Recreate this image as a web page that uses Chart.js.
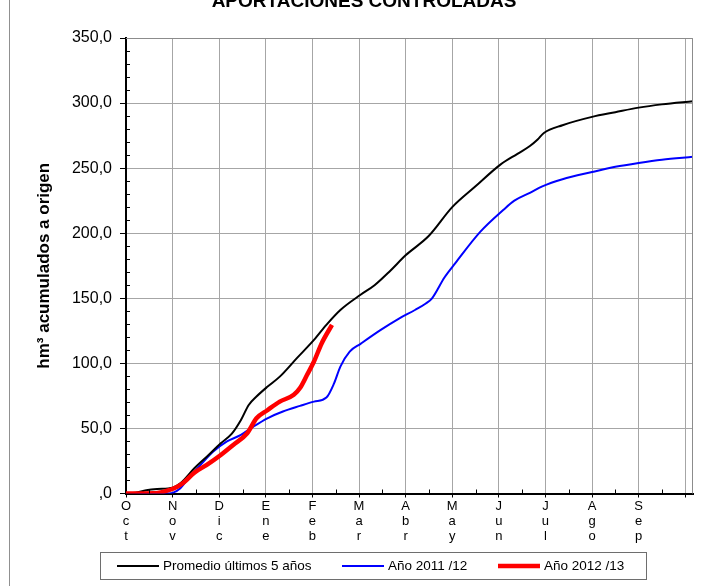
<!DOCTYPE html>
<html lang="es">
<head>
    <meta charset="UTF-8">
    <title>Aportaciones controladas</title>
    <script src="https://cdn.jsdelivr.net/npm/chart.js"></script>
    <style>
        body { margin: 0; background: #fff; }
        #wrap { width: 718px; height: 586px; position: relative; }
    </style>
</head>
<body>
    <div id="wrap"><canvas id="aportChart"></canvas></div>

    <script>
        // Meses del año hidrológico (tick cada 30 días)
        const meses = ['Oct', 'Nov', 'Dic', 'Ene', 'Feb', 'Mar', 'Abr', 'May', 'Jun', 'Jul', 'Ago', 'Sep'];
        const yTicks = [0, 50, 100, 150, 200, 250, 300, 350];

        // Promedio últimos 5 años
        const promedioDias = [0, 6, 13, 20, 30, 35, 44, 52, 61, 68, 74, 79, 84, 91, 99, 110, 121, 129, 138, 151, 160, 170, 180, 195, 210, 225, 241, 252, 260, 265, 269, 281, 300, 315, 330, 345, 365];
        const promedioValores = [0, 0.5, 2.5, 3.5, 4.5, 7.8, 19.4, 28.3, 38.6, 45.8, 56.5, 68, 74.5, 82, 89.8, 104, 118, 129.6, 141, 152.7, 160, 171, 183, 198, 220, 236, 252.7, 261, 267, 272, 277, 283, 289.4, 293, 296.5, 299, 301.4];

        // Año 2011/12
        const anyo1112Dias = [0, 25, 30, 35, 41, 48, 56, 65, 74, 82, 91, 101, 112, 121, 129, 134, 138, 144, 151, 164, 176, 186, 193, 197, 205, 212, 228, 243, 250, 260, 268, 281, 300, 315, 330, 345, 365];
        const anyo1112Valores = [0, 0, 0.5, 4, 13, 22, 32, 40, 45, 51.4, 57.8, 63, 67.3, 70.6, 73.7, 84.8, 97.5, 109, 115, 125.7, 134.6, 141, 146, 150, 166, 177, 201, 218, 225, 231, 236, 241.5, 247, 251, 254, 256.5, 258.7];

        // Año 2012/13
        const anyo1213Dias = [0, 18, 26, 31, 37, 44, 52, 61, 69, 78, 84, 91, 99, 108, 112, 116.5, 121, 126, 132.6];
        const anyo1213Valores = [0, 0.2, 2, 4, 8.3, 16, 22, 29.6, 37.3, 46.3, 57.8, 64, 70.6, 75.8, 81, 91, 101.4, 115.5, 129.6];

        const FONT = "'Liberation Sans', Arial, sans-serif";

        function puntos(dias, valores) {
            return dias.map((d, i) => ({ x: d, y: valores[i] }));
        }

        // marcas menores, bordes, título y leyenda con recuadro
        const decor = {
            id: 'decor',
            afterDraw(chart) {
                const { ctx, chartArea: a, scales: { x, y } } = chart;
                ctx.save();

                // borde superior y derecho del área
                ctx.strokeStyle = '#8c8c8c';
                ctx.lineWidth = 1;
                ctx.beginPath();
                ctx.moveTo(a.left, a.top + 0.5);
                ctx.lineTo(a.right - 0.5, a.top + 0.5);
                ctx.lineTo(a.right - 0.5, a.bottom);
                ctx.stroke();

                // marcas menores
                ctx.strokeStyle = '#000';
                ctx.beginPath();
                for (let v = 10; v < 350; v += 10) {
                    if (v % 50 === 0) continue;
                    const py = Math.round(y.getPixelForValue(v)) + 0.5;
                    ctx.moveTo(a.left, py);
                    ctx.lineTo(a.left + 4, py);
                }
                for (let d = 15; d < 365; d += 30) {
                    const px = Math.round(x.getPixelForValue(d)) + 0.5;
                    ctx.moveTo(px, a.bottom);
                    ctx.lineTo(px, a.bottom - 4);
                }
                ctx.stroke();

                // línea de marco izquierda
                ctx.strokeStyle = '#909090';
                ctx.beginPath();
                ctx.moveTo(9.5, 0);
                ctx.lineTo(9.5, chart.height);
                ctx.stroke();

                // título (cortado arriba)
                ctx.fillStyle = '#000';
                ctx.font = 'bold 19px ' + FONT;
                ctx.textAlign = 'center';
                ctx.textBaseline = 'alphabetic';
                ctx.fillText('APORTACIONES CONTROLADAS', 364, 7);

                // leyenda
                ctx.strokeStyle = '#6e6e6e';
                ctx.strokeRect(100.5, 552.5, 546, 27);
                ctx.font = '13.5px ' + FONT;
                ctx.textAlign = 'left';
                ctx.textBaseline = 'middle';
                const xs = [117, 342, 498];
                chart.data.datasets.forEach((ds, i) => {
                    ctx.strokeStyle = ds.borderColor;
                    ctx.lineWidth = ds.borderWidth;
                    ctx.beginPath();
                    ctx.moveTo(xs[i], 566);
                    ctx.lineTo(xs[i] + 42, 566);
                    ctx.stroke();
                    ctx.fillText(ds.label, xs[i] + 46, 566);
                });
                ctx.restore();
            }
        };

        new Chart(document.getElementById('aportChart'), {
            type: 'line',
            data: {
                datasets: [{
                    label: 'Promedio últimos 5 años',
                    data: puntos(promedioDias, promedioValores),
                    borderColor: '#000000',
                    borderWidth: 2,
                    order: 1
                }, {
                    label: 'Año 2011 /12',
                    data: puntos(anyo1112Dias, anyo1112Valores),
                    borderColor: '#0000ff',
                    borderWidth: 2,
                    order: 2
                }, {
                    label: 'Año 2012 /13',
                    data: puntos(anyo1213Dias, anyo1213Valores),
                    borderColor: '#ff0000',
                    borderWidth: 4.5,
                    order: 0
                }]
            },
            options: {
                responsive: true,
                maintainAspectRatio: false,
                animation: false,
                layout: { padding: { top: 38, right: 25, bottom: 32.5, left: 0 } },
                elements: {
                    point: { radius: 0 },
                    line: { cubicInterpolationMode: 'monotone', fill: false }
                },
                plugins: {
                    legend: { display: false },
                    tooltip: { enabled: false }
                },
                scales: {
                    x: {
                        type: 'linear',
                        min: 0,
                        max: 365,
                        afterBuildTicks: (scale) => {
                            scale.ticks = meses.map((m, i) => ({ value: i * 30 })).concat({ value: 360 });
                        },
                        afterFit: (scale) => { scale.height = 60; },
                        ticks: {
                            autoSkip: false,
                            maxRotation: 0,
                            padding: 1,
                            color: '#000',
                            font: { family: FONT, size: 13, lineHeight: 15 / 13 },
                            callback: (v) => {
                                const m = meses[v / 30];
                                return m ? m.split('') : '';
                            }
                        },
                        grid: {
                            color: (c) => c.tick && c.tick.value === 0 ? 'rgba(0,0,0,0)' : '#a6a6a6',
                            tickColor: '#000',
                            tickLength: 4
                        },
                        border: { color: '#000', width: 2 }
                    },
                    y: {
                        min: 0,
                        max: 350,
                        afterBuildTicks: (scale) => {
                            scale.ticks = yTicks.map(v => ({ value: v }));
                        },
                        afterFit: (scale) => { scale.width = 126; },
                        ticks: {
                            padding: 8,
                            color: '#000',
                            font: { family: FONT, size: 16 },
                            callback: (v) => v === 0 ? ',0' : v.toFixed(1).replace('.', ',')
                        },
                        grid: {
                            color: '#a6a6a6',
                            tickColor: '#000',
                            tickLength: 6
                        },
                        border: { color: '#000', width: 2 },
                        title: {
                            display: true,
                            text: 'hm³ acumulados a origen',
                            color: '#000',
                            font: { family: FONT, size: 17, weight: 'bold' },
                            padding: { top: 34, bottom: 0 }
                        }
                    }
                }
            },
            plugins: [decor]
        });
    </script>
</body>
</html>
